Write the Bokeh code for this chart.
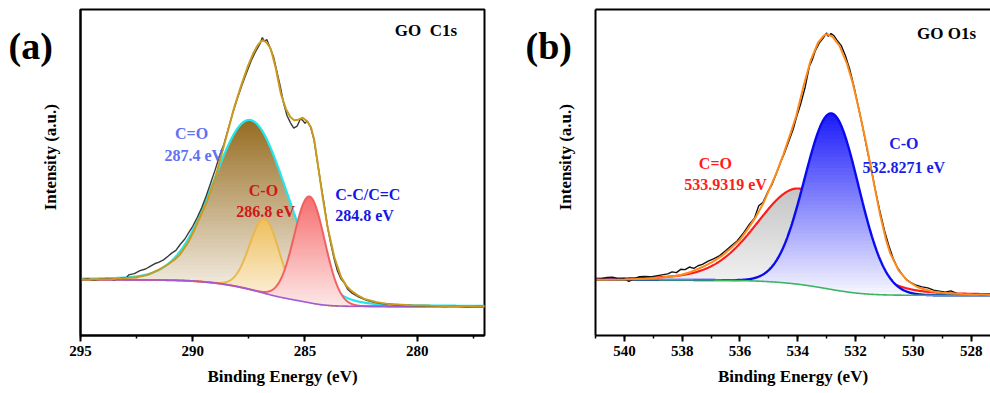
import numpy as np
from bokeh.plotting import figure
from bokeh.models import Range1d, Label, SingleIntervalTicker, FixedTicker, LinearAxis
from bokeh.core.properties import value
from bokeh.layouts import row
from bokeh.embed import file_html
from bokeh.resources import INLINE

SERIF = "Liberation Serif"
H = 393

# ---------------- GO C1s ----------------
c1s_raw_ev = [295.0, 294.7, 294.4, 294.1, 293.8, 293.5, 293.2, 292.95, 292.85, 292.6, 292.35, 292.1,
              291.9, 291.7, 291.5, 291.3, 291.1, 290.95, 290.75, 290.55, 290.35, 290.2, 290.0, 289.8,
              289.6, 289.4, 289.2, 289.0, 288.8, 288.6, 288.4, 288.2, 288.0, 287.8, 287.6, 287.4,
              287.2, 287.0, 286.9, 286.8, 286.7, 286.55, 286.4, 286.25, 286.1, 285.95, 285.8, 285.65,
              285.5, 285.35, 285.2, 285.1, 285.0, 284.9, 284.75, 284.6, 284.45, 284.3, 284.15, 284.0,
              283.85, 283.7, 283.55, 283.4, 283.25, 283.1, 282.9, 282.6, 282.3, 282.0, 281.6, 281.2,
              280.8, 280.3, 279.8, 279.3, 278.8, 278.3, 277.8, 277.3, 277.0]
c1s_raw_int = [17.0, 17.4, 16.9, 17.3, 17.5, 17.1, 17.6, 17.8, 18.6, 19.0, 19.9, 20.4,
               21.2, 22.0, 22.5, 23.2, 24.3, 25.2, 26.1, 28.0, 29.6, 31.3, 33.5, 36.2,
               39.2, 42.8, 46.8, 50.8, 55.2, 58.9, 63.8, 68.6, 72.9, 76.9, 80.6, 84.2,
               87.1, 89.5, 91.4, 90.2, 90.8, 88.2, 85.5, 81.0, 76.5, 71.2, 67.5, 65.3,
               63.6, 64.2, 66.5, 66.0, 65.1, 65.8, 63.9, 60.2, 53.5, 46.8, 40.5, 33.6,
               28.2, 23.5, 19.8, 17.4, 16.2, 14.2, 13.0, 11.8, 10.9, 10.3, 9.8, 9.6,
               9.3, 9.2, 9.0, 9.1, 8.9, 9.0, 8.7, 8.9, 8.8]
c1s_env_ev = [295.0, 293.5, 293.07, 292.5, 292.0, 291.5, 291.13, 290.8, 290.54, 290.2, 289.94, 289.6,
              289.35, 289.0, 288.75, 288.45, 288.15, 287.85, 287.56, 287.3, 287.11, 286.95, 286.85,
              286.7, 286.52, 286.3, 286.07, 285.85, 285.65, 285.48, 285.3, 285.1, 284.9, 284.73,
              284.58, 284.43, 284.21, 283.99, 283.69, 283.39, 283.15, 282.95, 282.65, 282.35,
              281.8, 281.31, 280.3, 279.38, 278.2, 277.0]
c1s_env_int = [17.1, 17.3, 17.6, 17.9, 18.6, 20.2, 21.7, 23.3, 25.1, 28.6, 32.2, 37.5,
               41.4, 48.2, 54.7, 62.3, 70.0, 76.5, 82.3, 86.6, 89.0, 90.3, 90.5,
               89.8, 87.9, 82.0, 74.1, 69.5, 67.0, 66.0, 66.2, 66.8, 65.7, 63.9,
               59.8, 52.7, 42.4, 33.2, 24.0, 17.9, 15.2, 13.8, 12.3, 11.2,
               10.2, 9.7, 9.3, 9.1, 9.0, 8.9]
c1s_labels = ["C=O", "C-O", "C-C/C=C"]
c1s_centers = [287.4, 286.8, 284.8]
c1s_heights = [52.0, 22.8, 32.6]
c1s_fwhm = [3.9, 1.55, 1.6]
c1s_lor = [0.1, 0.0, 0.0]
c1s_bg_ends = [17.1, 8.9]          # high-BE end, low-BE end

# ---------------- GO O1s ----------------
o1s_raw_ev = [541.0, 540.8, 540.6, 540.4, 540.2, 540.0, 539.85, 539.7, 539.5, 539.3, 539.1, 538.9,
              538.7, 538.5, 538.35, 538.2, 538.05, 537.9, 537.75, 537.6, 537.45, 537.3, 537.1, 536.9,
              536.7, 536.5, 536.3, 536.1, 535.9, 535.7, 535.5, 535.35, 535.2, 535.05, 534.9, 534.75,
              534.6, 534.45, 534.3, 534.15, 534.05, 533.9, 533.75, 533.6, 533.5, 533.4, 533.25, 533.1,
              533.0, 532.95, 532.85, 532.75, 532.65, 532.5, 532.35, 532.2, 532.05, 531.9, 531.75, 531.6,
              531.45, 531.3, 531.15, 531.0, 530.85, 530.7, 530.55, 530.4, 530.25, 530.1, 529.9, 529.7,
              529.5, 529.3, 529.1, 528.9, 528.7, 528.5, 528.3, 528.1, 527.9, 527.7, 527.4]
o1s_raw_int = [17.0, 17.4, 17.8, 17.9, 17.3, 17.5, 16.6, 17.2, 18.0, 18.1, 18.0, 18.3,
               18.6, 18.9, 19.5, 19.3, 20.3, 20.2, 21.0, 20.6, 21.4, 21.8, 22.8, 23.6,
               24.5, 26.0, 27.5, 29.0, 31.2, 33.8, 36.0, 39.8, 40.9, 43.8, 46.2, 49.5,
               53.0, 56.2, 59.8, 63.5, 66.8, 71.0, 76.0, 82.5, 84.5, 87.2, 89.8, 91.5,
               92.8, 91.8, 92.6, 92.0, 90.7, 89.0, 85.8, 81.6, 76.2, 70.0, 63.8, 57.0,
               50.8, 44.0, 37.8, 32.2, 27.6, 23.7, 20.8, 18.9, 17.2, 16.3, 15.4, 14.9,
               14.6, 13.9, 13.6, 13.3, 13.7, 12.9, 12.8, 12.6, 12.8, 12.5, 12.3]
o1s_env_ev = [541.0, 540.0, 539.3, 538.7, 538.1, 537.7, 537.3, 536.95, 536.6, 536.3, 536.0, 535.75,
              535.45, 535.2, 535.0, 534.75, 534.5, 534.25, 534.05, 533.8, 533.55, 533.3, 533.1,
              532.98, 532.8, 532.55, 532.3, 532.1, 531.85, 531.6, 531.45, 531.15, 530.95, 530.8,
              530.5, 530.2, 529.85, 529.4, 529.0, 528.3, 527.3]
o1s_env_int = [17.1, 17.2, 17.4, 17.8, 18.4, 19.5, 21.0, 22.6, 24.6, 26.9, 29.4, 32.4,
               36.4, 40.4, 44.5, 49.6, 55.5, 62.0, 67.5, 76.5, 84.5, 89.8, 92.0,
               92.4, 91.7, 88.8, 83.5, 77.5, 68.0, 57.5, 50.5, 37.0, 29.5, 25.2,
               19.8, 16.8, 14.8, 13.6, 13.1, 12.7, 12.4]
o1s_labels = ["C=O", "C-O"]
o1s_centers = [533.9319, 532.8271]
o1s_heights = [29.4, 54.0]
o1s_fwhm = [3.5, 2.2]
o1s_lor = [0.2, 0.0]
o1s_bg_ends = [17.1, 12.3]


def peak(x, c, h, w, m):
    """Gaussian-Lorentzian line shape."""
    u = (x - c) / w
    return h * ((1 - m) * np.exp(-4 * np.log(2) * u ** 2) + m / (1 + 4 * u ** 2))


def shirley(x, comps, hi_end, lo_end):
    """Shirley-type step background built from the fitted components (x ascending)."""
    tot = np.sum(comps, axis=0)
    area = np.concatenate([[0.0], np.cumsum(0.5 * (tot[1:] + tot[:-1]) * np.diff(x))])
    return lo_end + (hi_end - lo_end) * area / area[-1]


def mix(c0, c1, t):
    r, g, b = [int(round(a + (bb - a) * t)) for a, bb in zip(c0, c1)]
    return "#%02x%02x%02x" % (r, g, b)


def gradient_fill(p, x, base, top, c_top, c_bot, n=50):
    """Vertically shaded area between base and top, dark at the peak, pale at the base."""
    y0, y1 = base.min(), top.max()
    edges = np.linspace(y0, y1, n + 1)
    pad = (y1 - y0) / n * 0.35
    for k in range(n):
        lo, hi = edges[k], edges[k + 1]
        lower = np.maximum(base, lo)
        upper = np.maximum(np.minimum(top, hi + pad), lower)
        if np.all(upper - lower <= 0):
            continue
        t = (0.5 * (lo + hi) - y0) / (y1 - y0)
        p.varea(x=x, y1=lower, y2=upper, fill_color=mix(c_bot, c_top, t), fill_alpha=1.0)


def side_strip(width, letter, letter_x, ylabel_x):
    """Narrow strip left of a panel holding the panel letter and the rotated y title."""
    s = figure(width=width, height=H, output_backend="svg", toolbar_location=None,
               x_range=Range1d(0, width), y_range=Range1d(0, H),
               x_axis_location=None, y_axis_location=None,
               min_border_left=0, min_border_right=0, min_border_top=0, min_border_bottom=0)
    s.xgrid.visible = False
    s.ygrid.visible = False
    s.outline_line_color = None
    s.text(x=[letter_x], y=[H - 44.5], text=[letter], text_font=value(SERIF),
           text_font_style="bold", text_font_size="38px", text_color="black",
           text_align="left", text_baseline="middle")
    s.text(x=[ylabel_x], y=[H - 178], text=["Intensity (a.u.)"], angle=np.pi / 2,
           text_font=value(SERIF), text_font_style="bold", text_font_size="17px",
           text_color="black", text_align="center", text_baseline="middle")
    return s


def make_panel(width, x_start, x_end, interval, border_left, border_right, outline):
    p = figure(width=width, height=H, output_backend="svg", toolbar_location=None,
               x_range=Range1d(x_start, x_end), y_range=Range1d(0, 100),
               min_border_left=border_left, min_border_right=border_right,
               min_border_top=9, min_border_bottom=58)
    p.xgrid.visible = False
    p.ygrid.visible = False
    p.background_fill_color = "white"
    p.border_fill_color = "white"
    if outline:
        p.outline_line_color = "black"
        p.outline_line_width = 2
        p.outline_line_alpha = 1.0
    else:
        p.outline_line_color = None

    xa = p.xaxis[0]
    xa.ticker = SingleIntervalTicker(interval=interval, num_minor_ticks=2)
    xa.axis_line_width = 2
    xa.axis_line_color = "black"
    xa.major_tick_line_width = 2
    xa.major_tick_in = 0
    xa.major_tick_out = 6
    xa.minor_tick_line_width = 1.5
    xa.minor_tick_in = 0
    xa.minor_tick_out = 3
    xa.major_label_text_font = SERIF
    xa.major_label_text_font_style = "bold"
    xa.major_label_text_font_size = "15px"
    xa.major_label_text_color = "black"
    xa.major_label_standoff = 4
    xa.axis_label = "Binding Energy (eV)"
    xa.axis_label_text_font = SERIF
    xa.axis_label_text_font_style = "bold"
    xa.axis_label_text_font_size = "17px"
    xa.axis_label_text_color = "black"
    xa.axis_label_standoff = 8

    ya = p.yaxis[0]
    ya.ticker = FixedTicker(ticks=[])
    ya.axis_line_width = 2
    ya.axis_line_color = "black"
    ya.major_tick_out = 0
    ya.major_tick_in = 0
    ya.minor_tick_out = 0
    ya.minor_tick_in = 0
    ya.major_label_text_font_size = "0px"
    return p


def add_text(p, x, y, s, color, size="16px", align="center"):
    p.add_layout(Label(x=x, y=y, text=s, text_color=color, text_font=SERIF,
                       text_font_style="bold", text_font_size=size,
                       text_align=align, text_baseline="middle"))


# ---------------- panel (a) ----------------
side_a = side_strip(64, "(a)", 8, 50)
pa = make_panel(431, 295, 277, 5, 16, 11, True)
xa_grid = np.linspace(277, 295, 900)
comps_a = [peak(xa_grid, c, h, w, m) for c, h, w, m in
           zip(c1s_centers, c1s_heights, c1s_fwhm, c1s_lor)]
bg_a = shirley(xa_grid, comps_a, *c1s_bg_ends)
co2_a, co_a, cc_a = [bg_a + c for c in comps_a]

gradient_fill(pa, xa_grid, bg_a, co2_a, (150, 108, 32), (252, 250, 247))
pa.line(xa_grid, co2_a, line_color="#22e6ee", line_width=2.2)
gradient_fill(pa, xa_grid, bg_a, co_a, (238, 190, 92), (253, 246, 232))
pa.line(xa_grid, co_a, line_color="#e9b84c", line_width=2)
gradient_fill(pa, xa_grid, bg_a, cc_a, (246, 110, 110), (253, 232, 232))
pa.line(xa_grid, cc_a, line_color="#f06060", line_width=2)
pa.line(xa_grid, bg_a, line_color="#a25ad4", line_width=1.6)
pa.line(c1s_raw_ev, c1s_raw_int, line_color="#3a3a3a", line_width=1.4)
pa.line(c1s_env_ev, c1s_env_int, line_color="#c99a1e", line_width=2)

add_text(pa, 290.05, 62.0, c1s_labels[0], "#6072f2")
add_text(pa, 289.95, 55.2, "%.1f eV" % c1s_centers[0], "#6072f2")
add_text(pa, 286.85, 44.5, c1s_labels[1], "#cf1818")
add_text(pa, 286.75, 38.0, "%.1f eV" % c1s_centers[1], "#cf1818")
add_text(pa, 283.65, 43.1, c1s_labels[2], "#1616e4", align="left")
add_text(pa, 283.65, 36.8, "%.1f eV" % c1s_centers[2], "#1616e4", align="left")
add_text(pa, 281.0, 93.6, "GO\u00a0 C1s", "black", size="17px", align="left")

# ---------------- panel (b) ----------------
side_b = side_strip(85, "(b)", 30, 70)
pb = make_panel(410, 541, 527.33, 2, 15, 0, False)
top = LinearAxis(ticker=FixedTicker(ticks=[]), axis_line_width=2, axis_line_color="black",
                 major_tick_out=0, major_tick_in=0, minor_tick_out=0, minor_tick_in=0,
                 major_label_text_font_size="0px")
pb.add_layout(top, "above")

xb_grid = np.linspace(527.33, 541, 900)
comps_b = [peak(xb_grid, c, h, w, m) for c, h, w, m in
           zip(o1s_centers, o1s_heights, o1s_fwhm, o1s_lor)]
bg_b = shirley(xb_grid, comps_b, *o1s_bg_ends)
co2_b, co_b = [bg_b + c for c in comps_b]

gradient_fill(pb, xb_grid, bg_b, co2_b, (196, 196, 196), (248, 248, 248))
pb.line(xb_grid, co2_b, line_color="#ff1c1c", line_width=2.2)
gradient_fill(pb, xb_grid, bg_b, co_b, (26, 26, 250), (248, 248, 255))
pb.line(xb_grid, co_b, line_color="#0a0af0", line_width=2.4)
pb.line(xb_grid, bg_b, line_color="#3cb464", line_width=1.6)
pb.line(o1s_raw_ev, o1s_raw_int, line_color="#111111", line_width=1.4)
pb.line(o1s_env_ev, o1s_env_int, line_color="#ff8a1a", line_width=2)

add_text(pb, 536.85, 52.7, o1s_labels[0], "#ff1c1c")
add_text(pb, 536.5, 46.3, "%.4f eV" % o1s_centers[0], "#ff1c1c")
add_text(pb, 530.33, 58.9, o1s_labels[1], "#1c1ce6")
add_text(pb, 530.33, 51.6, "%.4f eV" % o1s_centers[1], "#1c1ce6")
add_text(pb, 529.87, 92.5, "GO O1s", "black", size="17px", align="left")

layout = row(side_a, pa, side_b, pb, spacing=0)
open("out.html", "w").write(file_html(layout, INLINE))
